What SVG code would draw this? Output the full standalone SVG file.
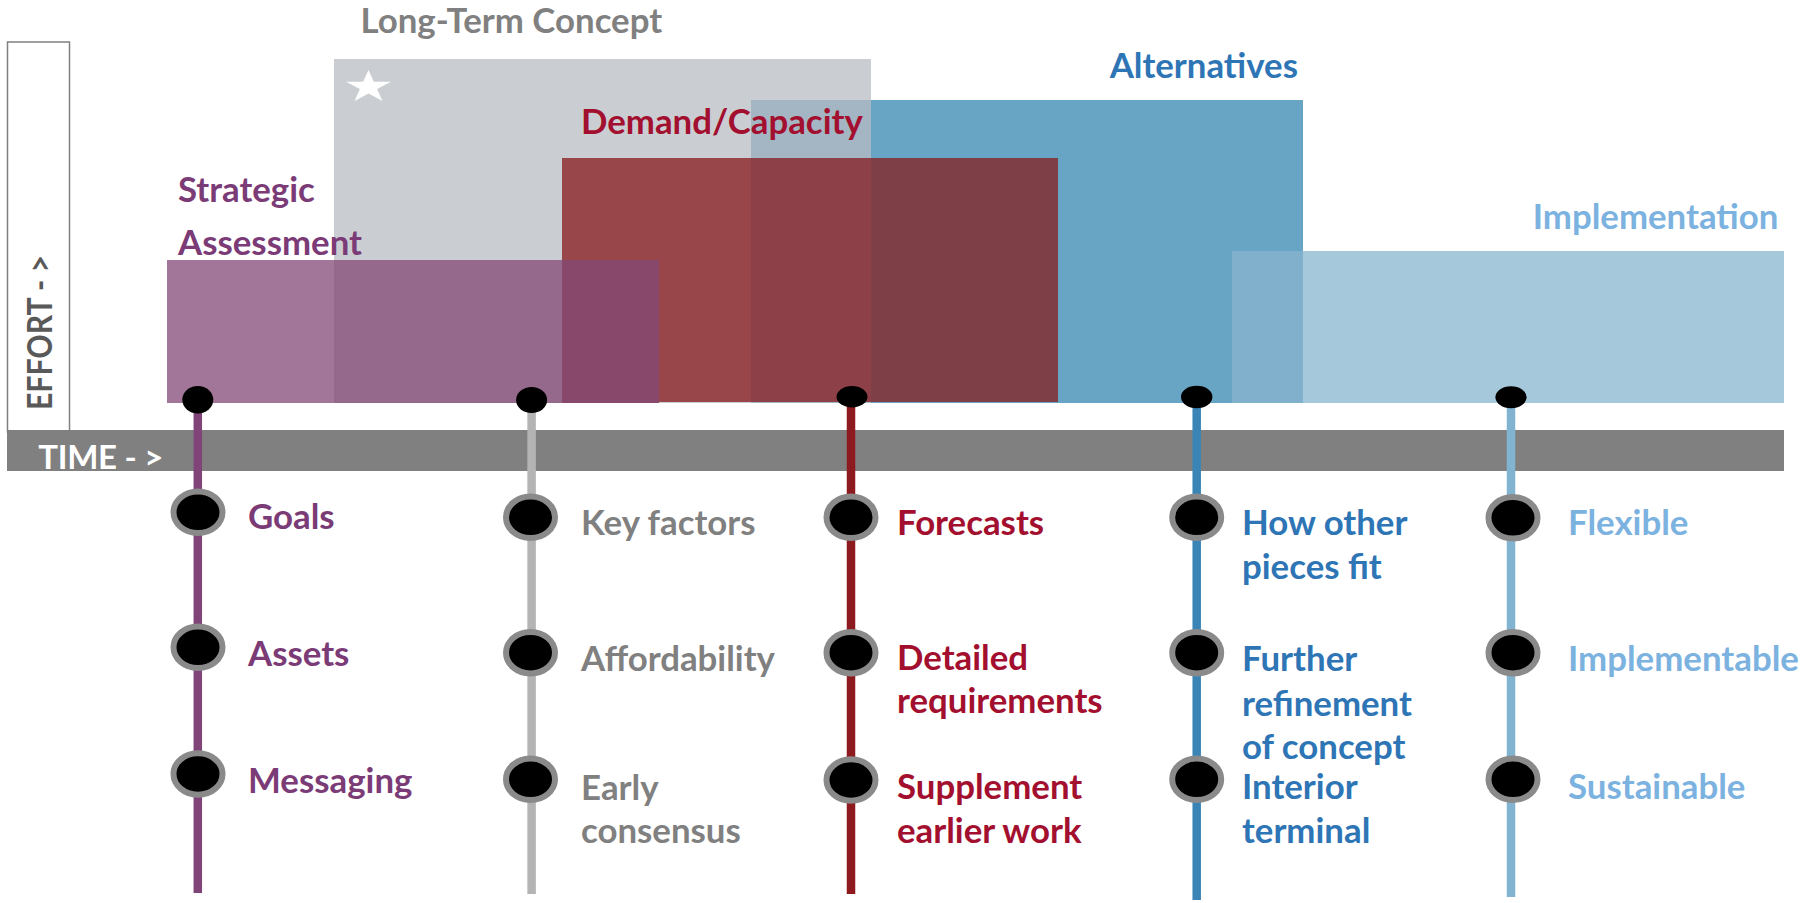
<svg xmlns="http://www.w3.org/2000/svg" width="1806" height="903" viewBox="0 0 1806 903">
<style>
text{font-family:Lato,"Open Sans","Liberation Sans",sans-serif;font-weight:bold;font-size:34.8px}
.gr{fill:#808080}.pu{fill:#7B3B76}.rd{fill:#A30F2E}.bl{fill:#2E75B6}.lb{fill:#7CB2E0}
.hub{fill:#000}
.ms{fill:#000;stroke:#8A8A8A;stroke-width:6}
.stem{stroke-width:8.5;fill:none}
</style>
<rect width="1806" height="903" fill="#fff"/>
<g id="axes">
<rect x="7.5" y="42" width="62" height="390" fill="#fff" stroke="#808080" stroke-width="1.5"/>
<text transform="translate(51.7,410) rotate(-90)" style="fill:#595959;font-size:34px" textLength="155" lengthAdjust="spacingAndGlyphs">EFFORT - &gt;</text>
<rect x="7" y="430" width="1777" height="41" fill="#808080"/>
<text x="38.3" y="469.3" style="fill:#fff;font-size:33px" textLength="125">TIME - &gt;</text>
</g>
<g id="long-term-concept">
<rect x="334" y="59" width="537" height="344" fill="#CACED3"/>
<polygon points="368.5,70 373.8,81.8 391,81.8 377.1,89.1 382.4,101 368.5,93.6 354.6,101 359.9,89.1 346,81.8 363.2,81.8" fill="#fff"/>
<text x="360.5" y="33.3" class="gr">Long-Term Concept</text>
</g>
<g id="alternatives">
<rect x="751" y="100" width="552" height="303" fill="#68A5C4"/>
<rect x="751" y="100" width="120" height="303" fill="#A4B6C3"/>
<text x="1109.7" y="77.7" class="bl">Alternatives</text>
</g>
<g id="demand-capacity">
<rect x="562" y="158" width="496" height="244" fill="#984649"/>
<rect x="751" y="158" width="120" height="244" fill="#8D4047"/>
<rect x="871" y="158" width="187" height="244" fill="#7E3F47"/>
<text x="581" y="134" class="rd">Demand/Capacity</text>
</g>
<g id="strategic-assessment">
<rect x="167" y="260" width="492" height="143" fill="#A27698"/>
<rect x="334" y="260" width="228" height="143" fill="#94698B"/>
<rect x="562" y="260" width="97" height="143" fill="#88486B"/>
<text x="178" y="202" class="pu">Strategic</text>
<text x="178" y="255" class="pu">Assessment</text>
</g>
<g id="implementation">
<rect x="1232" y="251" width="552" height="152" fill="#A5C8DB"/>
<rect x="1232" y="251" width="71" height="152" fill="#80B0CC"/>
<text x="1532.7" y="229.3" class="lb">Implementation</text>
</g>
<g id="connectors">
<line x1="197.8" y1="400" x2="197.8" y2="893" class="stem" stroke="#804478"/>
<line x1="531.6" y1="400" x2="531.6" y2="894" class="stem" stroke="#B4B4B4"/>
<line x1="851" y1="397" x2="851" y2="894" class="stem" stroke="#8C1A1E"/>
<line x1="1196.7" y1="397" x2="1196.7" y2="900" class="stem" stroke="#3A85B6"/>
<line x1="1511" y1="397" x2="1511" y2="897" class="stem" stroke="#82B4D2"/>
</g>
<g id="track-strategic">
<ellipse cx="197.8" cy="399.7" rx="15.5" ry="13.7" class="hub"/>
<ellipse cx="198" cy="512.3" rx="24.5" ry="20.7" class="ms"/>
<ellipse cx="198" cy="647.3" rx="24.5" ry="20.7" class="ms"/>
<ellipse cx="198" cy="774" rx="24.5" ry="20.7" class="ms"/>
<text x="248" y="529.3" class="pu">Goals</text>
<text x="248" y="665.7" class="pu">Assets</text>
<text x="248" y="793.3" class="pu">Messaging</text>
</g>
<g id="track-concept">
<ellipse cx="531.6" cy="400" rx="15.5" ry="13" class="hub"/>
<ellipse cx="530.5" cy="517.3" rx="24.5" ry="20.7" class="ms"/>
<ellipse cx="530.5" cy="652.7" rx="24.5" ry="20.7" class="ms"/>
<ellipse cx="530.5" cy="779.3" rx="24.5" ry="20.7" class="ms"/>
<text x="581" y="535" class="gr">Key factors</text>
<text x="581" y="670.7" class="gr">Affordability</text>
<text x="581" y="800" class="gr">Early</text>
<text x="581" y="842.7" class="gr">consensus</text>
</g>
<g id="track-demand">
<ellipse cx="852" cy="396.7" rx="15.5" ry="10.7" class="hub"/>
<ellipse cx="851" cy="517.3" rx="24.5" ry="20.7" class="ms"/>
<ellipse cx="851" cy="652.7" rx="24.5" ry="20.7" class="ms"/>
<ellipse cx="851" cy="780" rx="24.5" ry="20.7" class="ms"/>
<text x="897" y="535" class="rd">Forecasts</text>
<text x="897" y="670" class="rd">Detailed</text>
<text x="897" y="713.3" class="rd">requirements</text>
<text x="897" y="799.3" class="rd">Supplement</text>
<text x="897" y="842.7" class="rd">earlier work</text>
</g>
<g id="track-alternatives">
<ellipse cx="1196.7" cy="397" rx="15.7" ry="11.2" class="hub"/>
<ellipse cx="1196.7" cy="517.3" rx="24.5" ry="20.7" class="ms"/>
<ellipse cx="1196.7" cy="652.7" rx="24.5" ry="20.7" class="ms"/>
<ellipse cx="1196.7" cy="779.3" rx="24.5" ry="20.7" class="ms"/>
<text x="1242" y="535" class="bl">How other</text>
<text x="1242" y="579.3" class="bl">pieces fit</text>
<text x="1242" y="670.7" class="bl">Further</text>
<text x="1242" y="716" class="bl">refinement</text>
<text x="1242" y="759.3" class="bl">of concept</text>
<text x="1242" y="799.3" class="bl">Interior</text>
<text x="1242" y="843.3" class="bl">terminal</text>
</g>
<g id="track-implementation">
<ellipse cx="1511" cy="397.3" rx="15.6" ry="11" class="hub"/>
<ellipse cx="1513" cy="517.8" rx="24.5" ry="20.7" class="ms"/>
<ellipse cx="1513" cy="652.7" rx="24.5" ry="20.7" class="ms"/>
<ellipse cx="1513" cy="779.3" rx="24.5" ry="20.7" class="ms"/>
<text x="1568" y="535" class="lb">Flexible</text>
<text x="1568" y="670.7" class="lb">Implementable</text>
<text x="1568" y="799.3" class="lb">Sustainable</text>
</g>
</svg>
